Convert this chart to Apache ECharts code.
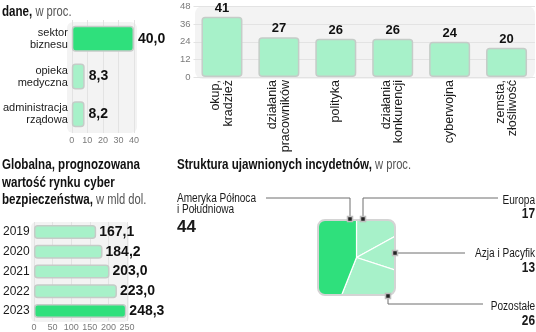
<!DOCTYPE html>
<html>
<head>
<meta charset="utf-8">
<script src="https://cdn.jsdelivr.net/npm/echarts@6/dist/echarts.min.js"></script>
<style>
  html, body { margin: 0; padding: 0; background: #fff; }
  #chart { width: 536px; height: 332px; }
</style>
</head>
<body>
<div id="chart"></div>
<script>
// Most attacked sectors, % of cases
const sectorCats = ['sektor\nbiznesu', 'opieka\nmedyczna', 'administracja\nrządowa'];
const sectorVals = [40.0, 8.3, 8.2];

// Motives of attacks, %
const motiveCats = ['okup,\nkradzież', 'działania\npracowników', 'polityka', 'działania\nkonkurencji', 'cyberwojna', 'zemsta,\nzłośliwość'];
const motiveVals = [41, 27, 26, 26, 24, 20];

// Global cyber security market, bn USD
const yearCats = ['2019', '2020', '2021', '2022', '2023'];
const marketVals = [167.1, 184.2, 203.0, 223.0, 248.3];

// Disclosed incidents by region, %
const regionNames = ['Ameryka Północa\ni Południowa', 'Europa', 'Azja i Pacyfik', 'Pozostałe'];
const regionVals = [44, 17, 13, 26];

const LIGHT = '#a7f1c9';
const DARK = '#2fe07c';
const EDGE = '#c5ccc8';
const SANS = '"Liberation Sans", Arial, sans-serif';
const fmt1 = v => v.toFixed(1).replace('.', ',');

function barData(vals, hi) {
  return vals.map((v, i) => ({ value: v, itemStyle: { color: i === hi ? DARK : LIGHT } }));
}
const barStyle = { borderColor: EDGE, borderWidth: 1.5, borderRadius: 3 };
const valueFont = size => ({ fontFamily: SANS, fontWeight: 'bold', fontSize: size, color: '#111' });
const tickFont = size => ({ fontFamily: SANS, fontSize: size, color: '#7a7a7a' });
const grid = '#e3e3e3';

// pie runs clockwise from 12 o'clock: Europa, Azja, Pozostałe, then the Americas
const pieOrder = [1, 2, 3, 0];
const pieData = pieOrder.map(i => ({
  name: regionNames[i], value: regionVals[i],
  itemStyle: { color: i === 0 ? DARK : LIGHT }
}));

// headings are set in a narrowed bold face
const headRich = {
  b: { fontFamily: SANS, fontWeight: 'bold', fontSize: 14.5, fill: '#111', lineHeight: 17.5 },
  n: { fontFamily: SANS, fontSize: 14, fill: '#555', lineHeight: 17.5 }
};
function heading(text, x, y) {
  return { type: 'text', z: 12, x, y, scaleX: 0.8,
    style: { text, rich: headRich, align: 'left', verticalAlign: 'top' } };
}

// rounded square window for the pie: outer box with an inner rounded hole,
// traced as one contour joined by a zero-width bridge at the top
const sq = { x0: 318, y0: 220, x1: 395, y1: 295, r: 7 };
function windowMask() {
  const mx = (sq.x0 + sq.x1) / 2;
  const pts = [[mx, 196], [418, 196], [418, 320], [296, 320], [296, 196], [mx, 196], [mx, sq.y0]];
  const corners = [
    [sq.x0 + sq.r, sq.y0 + sq.r, 270], [sq.x0 + sq.r, sq.y1 - sq.r, 180],
    [sq.x1 - sq.r, sq.y1 - sq.r, 90], [sq.x1 - sq.r, sq.y0 + sq.r, 0]
  ];
  corners.forEach(([cx, cy, a0]) => {
    for (let k = 0; k <= 8; k++) {
      const a = (a0 - k * 90 / 8) * Math.PI / 180;
      pts.push([cx + sq.r * Math.cos(a), cy + sq.r * Math.sin(a)]);
    }
  });
  pts.push([mx, sq.y0]);
  return pts;
}

function leader(points) {
  return { type: 'polyline', z: 10, shape: { points }, style: { stroke: '#6f6f6f', lineWidth: 1, fill: null } };
}
function marker(x, y) {
  return { type: 'rect', z: 11, shape: { x: x - 2.5, y: y - 2.5, width: 5, height: 5 },
    style: { fill: '#222', stroke: '#bdbdbd', lineWidth: 1.5 } };
}
function label(text, x, y, align, font, sx) {
  return { type: 'text', z: 12, x, y, scaleX: sx,
    style: { text, align, verticalAlign: 'middle', font, fill: '#1a1a1a', lineHeight: 11 } };
}
const nameFont = '12px ' + SANS;
const numFont = 'bold 14px ' + SANS;

const option = {
  animation: false,
  grid: [
    { left: 69, top: 20, width: 65, height: 113 },
    { left: 193.5, top: 6.5, width: 341.5, height: 70.5 },
    { left: 33, top: 222, width: 94, height: 99 }
  ],
  xAxis: [
    { gridIndex: 0, type: 'value', min: 0, max: 40, interval: 10,
      axisLine: { show: false }, axisTick: { show: false },
      axisLabel: Object.assign({ margin: 3 }, tickFont(9)),
      splitLine: { lineStyle: { color: grid } } },
    { gridIndex: 1, type: 'category', data: motiveCats,
      axisLine: { show: false }, axisTick: { show: false },
      axisLabel: { interval: 0, rotate: 90, margin: 3, fontFamily: SANS, fontSize: 12.5, lineHeight: 12.5, color: '#1a1a1a' } },
    { gridIndex: 2, type: 'value', min: 0, max: 250, interval: 50,
      axisLine: { show: false }, axisTick: { show: false },
      axisLabel: Object.assign({ margin: 2 }, tickFont(9)),
      splitLine: { lineStyle: { color: grid } } }
  ],
  yAxis: [
    { gridIndex: 0, type: 'category', data: sectorCats, inverse: true,
      axisLine: { show: false }, axisTick: { show: false },
      axisLabel: { margin: 4, fontFamily: SANS, fontSize: 11, lineHeight: 12, color: '#1a1a1a' } },
    { gridIndex: 1, type: 'value', min: 0, max: 48, interval: 12,
      axisLine: { show: false }, axisTick: { show: false },
      axisLabel: Object.assign({ margin: 3 }, tickFont(9.5)),
      splitLine: { lineStyle: { color: grid } } },
    { gridIndex: 2, type: 'category', data: yearCats, inverse: true,
      axisLine: { show: false }, axisTick: { show: false },
      axisLabel: { align: 'left', margin: 31, fontFamily: SANS, fontSize: 12, color: '#1a1a1a' } }
  ],
  series: [
    { type: 'bar', xAxisIndex: 0, yAxisIndex: 0, data: barData(sectorVals, 0), barWidth: 26,
      itemStyle: barStyle,
      label: Object.assign({ show: true, position: 'right', distance: 4, formatter: p => fmt1(p.value) }, valueFont(14)) },
    { type: 'bar', xAxisIndex: 1, yAxisIndex: 1, data: barData(motiveVals, -1), barWidth: 41,
      itemStyle: barStyle,
      label: Object.assign({ show: true, position: 'top', distance: 2, formatter: p => String(p.value) }, valueFont(13)) },
    { type: 'bar', xAxisIndex: 2, yAxisIndex: 2, data: barData(marketVals, 4), barWidth: 14,
      itemStyle: barStyle,
      label: Object.assign({ show: true, position: 'right', distance: 3, formatter: p => fmt1(p.value) }, valueFont(14)) },
    { type: 'pie', center: [356.5, 257.5], radius: 57, startAngle: 90, clockwise: true,
      data: pieData, label: { show: false }, labelLine: { show: false },
      emphasis: { disabled: true },
      itemStyle: { borderColor: '#fff', borderWidth: 1.2 } }
  ],
  graphic: [
    // headings
    heading('{b|dane,}{n| w proc.}', 2, 3),
    heading('{b|Globalna, prognozowana}\n{b|wartość rynku cyber}\n{b|bezpieczeństwa,}{n| w mld dol.}', 2, 156.5),
    heading('{b|Struktura ujawnionych incydetnów,}{n| w proc.}', 177, 156.5),
    // panel backgrounds
    { type: 'rect', z: -1, shape: { x: 67, y: 22, width: 70, height: 111, r: 6 }, style: { fill: '#f3f3f3' } },
    { type: 'rect', z: -1, shape: { x: 195, y: 6, width: 340, height: 73, r: 8 }, style: { fill: '#f3f3f3' } },
    { type: 'rect', z: -1, shape: { x: 31, y: 222, width: 98, height: 100, r: 5 }, style: { fill: '#f3f3f3' } },
    // square window and frame over the pie
    { type: 'polygon', z: 5, shape: { points: windowMask() }, style: { fill: '#fff', stroke: null } },
    { type: 'rect', z: 6, shape: { x: sq.x0, y: sq.y0, width: sq.x1 - sq.x0, height: sq.y1 - sq.y0, r: sq.r },
      style: { fill: null, stroke: '#d4d4d4', lineWidth: 2 } },
    // leader lines
    leader([[350, 219], [350, 198], [266, 198]]),
    leader([[363, 219], [363, 198], [498, 198]]),
    leader([[395, 253], [465, 253]]),
    leader([[388, 296], [388, 304], [483, 304]]),
    marker(350, 219), marker(363, 219), marker(395, 253), marker(388, 296),
    // region labels
    label(regionNames[0], 177, 204, 'left', nameFont, 0.84),
    label(String(regionVals[0]), 177, 227, 'left', 'bold 17px ' + SANS, 1),
    label(regionNames[1], 535, 201, 'right', nameFont, 0.84),
    label(String(regionVals[1]), 535, 214, 'right', numFont, 0.85),
    label(regionNames[2], 535, 254, 'right', nameFont, 0.84),
    label(String(regionVals[2]), 535, 268, 'right', numFont, 0.85),
    label(regionNames[3], 535, 307, 'right', nameFont, 0.84),
    label(String(regionVals[3]), 535, 321, 'right', numFont, 0.85)
  ]
};

const chart = echarts.init(document.getElementById('chart'), null, { renderer: 'canvas' });
chart.setOption(option);
</script>
</body>
</html>
